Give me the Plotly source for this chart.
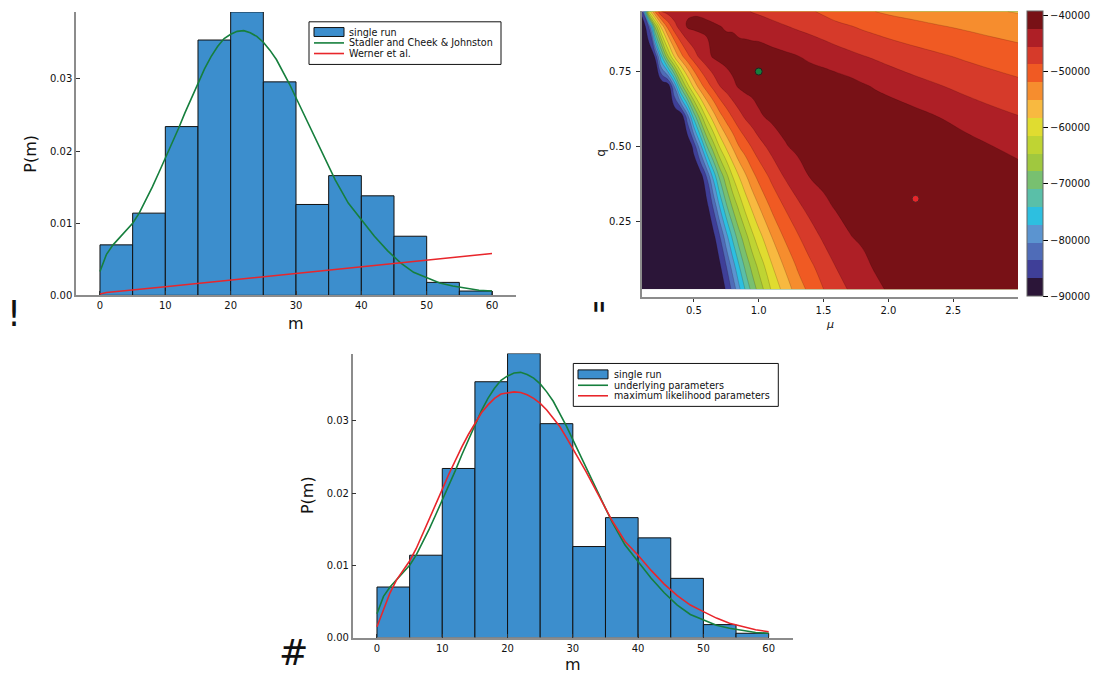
import plotly.graph_objects as go

W, H = 1105, 679
def fx(p):
    return p / W
def fy(p):
    return 1 - p / H

# ---------------- data ----------------
bin_edges = [0, 5, 10, 15, 20, 25, 30, 35, 40, 45, 50, 55, 60]
single_run_density = [0.0070, 0.0114, 0.0234, 0.0354, 0.0393, 0.0296,
                      0.0126, 0.0166, 0.0138, 0.0082, 0.0018, 0.0006]

curve_m = [0, 1, 2, 3, 4, 5, 6, 7, 8, 9, 10, 11, 12, 13, 14, 15, 16, 17, 18, 19,
           20, 21, 22, 23, 24, 25, 26, 27, 28, 29, 30, 32, 34, 36, 38, 40, 42, 44,
           46, 48, 50, 52, 54, 56, 58, 60]
underlying_P = [0.0033, 0.0057, 0.0070, 0.0080, 0.0089, 0.0100, 0.0114, 0.0131, 0.0150,
                0.0170, 0.0190, 0.0210, 0.0231, 0.0253, 0.0274, 0.0295, 0.0314, 0.0331,
                0.0345, 0.0356, 0.0362, 0.0366, 0.0367, 0.0364, 0.0359, 0.0351, 0.0340,
                0.0327, 0.0311, 0.0293, 0.0274, 0.0236, 0.0197, 0.0160, 0.0128, 0.0105,
                0.0082, 0.0062, 0.0045, 0.0032, 0.0024, 0.0017, 0.0013, 0.0010, 0.0007,
                0.0006]
max_likelihood_P = [0.0015, 0.0038, 0.0062, 0.0080, 0.0093, 0.0106, 0.0123, 0.0143, 0.0164,
                    0.0185, 0.0205, 0.0226, 0.0246, 0.0264, 0.0281, 0.0297, 0.0311, 0.0322,
                    0.0331, 0.0337, 0.0339, 0.0340, 0.0339, 0.0336, 0.0331, 0.0324, 0.0315,
                    0.0304, 0.0292, 0.0277, 0.0262, 0.0230, 0.0196, 0.0162, 0.0133, 0.0114,
                    0.0093, 0.0074, 0.0058, 0.0045, 0.0036, 0.0027, 0.0020, 0.0015, 0.0011,
                    0.0008]
werner_m = [0, 1, 10, 20, 30, 40, 50, 60]
werner_P = [0.0002, 0.0004, 0.0012, 0.0021, 0.0030, 0.0040, 0.0049, 0.0058]

# log-likelihood surface (values in thousands)
mu_vals = [0.1, 0.15, 0.2, 0.25, 0.3, 0.35, 0.4, 0.45, 0.5, 0.55, 0.6, 0.65, 0.7, 0.75,
           0.8, 0.85, 0.9, 0.95, 1.0, 1.1, 1.2, 1.3, 1.4, 1.5, 1.6, 1.7, 1.8, 1.9, 2.0,
           2.2, 2.4, 2.6, 2.8, 3.0]
q_vals = [0.025, 0.1, 0.2, 0.3, 0.4, 0.5, 0.6, 0.7, 0.8, 0.9, 0.95]
ll_q0025 = [-90.0] * 12 + [-89.68, -86.29, -82.67, -77.90, -73.59, -69.68, -66.66, -61.01,
            -56.98, -53.55, -50.85, -48.73, -46.88, -45.26, -44.15, -43.07, -42.06,
            -41.42, -40.95, -40.79, -40.79, -40.63]
ll_q010 = [-90.0] * 12 + [-87.40, -83.78, -79.01, -74.28, -70.00, -66.79, -63.84, -58.60,
           -54.79, -51.52, -49.30, -47.30, -45.42, -44.28, -43.14, -42.06, -41.58,
           -40.95, -40.47, -40.47, -40.47, -40.47]
ll_q020 = [-90.0] * 11 + [-87.78, -83.81, -78.44, -73.33, -68.95, -65.58, -62.19, -59.46,
           -55.08, -51.49, -49.04, -46.85, -45.04, -43.77, -42.50, -41.90, -41.42,
           -40.95, -40.15, -39.99, -40.15, -40.31, -40.47]
ll_q030 = [-90.0] * 10 + [-87.81, -83.27, -77.11, -71.55, -67.27, -63.65, -60.19, -57.55,
           -55.23, -51.27, -48.53, -46.15, -44.47, -43.07, -42.06, -41.58, -41.10,
           -40.79, -40.15, -39.45, -39.68, -40.15, -40.63, -40.79]
ll_q040 = [-90.0] * 9 + [-88.57, -83.40, -76.41, -70.22, -65.74, -61.39, -58.15, -55.49,
           -52.98, -51.01, -47.96, -45.33, -43.71, -42.22, -41.58, -41.10, -40.79,
           -40.47, -40.15, -39.68, -39.68, -39.99, -40.47, -40.79, -41.10]
ll_q050 = [-90.0] * 8 + [-85.68, -78.60, -71.20, -66.00, -61.17, -57.65, -54.69, -51.90,
           -50.12, -48.41, -46.85, -44.47, -42.66, -41.74, -41.26, -40.95, -40.79,
           -40.63, -40.47, -39.99, -39.84, -40.31, -40.47, -41.20, -42.31, -43.30]
ll_q060 = [-90.0] * 6 + [-89.33, -82.03, -72.82, -66.09, -60.50, -56.50, -53.04, -50.50,
           -48.41, -46.53, -45.01, -43.93, -42.82, -41.74, -41.26, -40.95, -40.79,
           -40.79, -40.79, -40.63, -40.47, -40.31, -40.47, -41.42, -42.47, -43.74,
           -44.66, -45.45]
ll_q070 = [-90.0] * 4 + [-89.30, -80.38, -69.90, -62.89, -57.46, -53.33, -50.28, -47.87,
           -45.65, -44.31, -43.01, -42.06, -41.58, -41.42, -41.26, -41.10, -40.95,
           -40.79, -40.63, -40.47, -40.79, -41.23, -41.96, -42.63, -43.26, -44.41,
           -45.39, -46.34, -47.17, -47.93]
ll_q080 = [-90.0, -90.0, -86.63, -74.70, -65.08, -58.00, -53.08, -49.68, -46.92, -44.82,
           -43.26, -42.06, -41.58, -41.26, -41.10, -40.95, -40.79, -40.79, -40.63,
           -41.26, -41.74, -42.28, -42.85, -43.49, -44.15, -44.79, -45.39, -45.93,
           -46.50, -47.49, -48.34, -49.17, -49.90, -50.50]
ll_q090 = [-90.0, -84.00, -67.20, -57.11, -50.79, -46.73, -43.99, -42.06, -41.74, -41.74,
           -41.90, -42.06, -42.31, -42.60, -42.69, -43.23, -43.52, -43.80, -44.12,
           -44.72, -45.36, -45.99, -46.57, -47.23, -47.96, -48.53, -49.17, -49.71,
           -50.22, -51.04, -51.74, -52.34, -52.95, -53.55]
ll_q095 = [-85.24, -61.17, -51.77, -45.45, -44.28, -43.49, -43.01, -42.76, -42.69, -42.76,
           -42.95, -43.26, -43.65, -44.03, -44.44, -44.85, -45.23, -45.68, -45.96,
           -46.60, -47.23, -47.80, -48.38, -49.26, -50.19, -50.92, -51.36, -51.90,
           -52.38, -53.01, -53.58, -54.15, -54.73, -55.30]
ll_rows = [ll_q0025, ll_q010, ll_q020, ll_q030, ll_q040, ll_q050, ll_q060,
           ll_q070, ll_q080, ll_q090, ll_q095]

underlying_mu, underlying_q = [1.0], [0.75]
ml_mu, ml_q = [2.21], [0.326]

level_min, level_step, n_bands = -90000, 3175, 16
band_colors = ["#2b1538", "#3f3f98", "#4f6cb8", "#5b94d0", "#2dbfe0", "#5abfa8",
               "#78c070", "#a0c83f", "#bfd433", "#e0dc30", "#f8b940", "#f68d2e",
               "#f05a23", "#d63a2a", "#ae1f26", "#781116"]
cbar_ticks = [-90000, -80000, -70000, -60000, -50000, -40000]

# ---------------- figure ----------------
BAR = "#3c8ecd"
GREEN = "#167f3d"
RED = "#e8262b"
FONT = "DejaVu Sans"

fig = go.Figure()
centers = [(a + b) / 2 for a, b in zip(bin_edges[:-1], bin_edges[1:])]
widths = [b - a for a, b in zip(bin_edges[:-1], bin_edges[1:])]

for xa, ya in [("x", "y"), ("x3", "y3")]:
    fig.add_trace(go.Bar(x=centers, y=single_run_density, width=widths,
                         marker=dict(color=BAR, line=dict(color="#111111", width=1)),
                         xaxis=xa, yaxis=ya, showlegend=False, hoverinfo="skip"))

fig.add_trace(go.Scatter(x=curve_m, y=underlying_P, mode="lines", xaxis="x", yaxis="y",
                         line=dict(color=GREEN, width=1.6), showlegend=False))
fig.add_trace(go.Scatter(x=werner_m, y=werner_P, mode="lines", xaxis="x", yaxis="y",
                         line=dict(color=RED, width=1.6), showlegend=False))
fig.add_trace(go.Scatter(x=curve_m, y=underlying_P, mode="lines", xaxis="x3", yaxis="y3",
                         line=dict(color=GREEN, width=1.6), showlegend=False))
fig.add_trace(go.Scatter(x=curve_m, y=max_likelihood_P, mode="lines", xaxis="x3", yaxis="y3",
                         line=dict(color=RED, width=1.6), showlegend=False))

z = [[v * 1000 for v in row] for row in ll_rows]
cscale = [[k / (n_bands - 1), c] for k, c in enumerate(band_colors)]
fig.add_trace(go.Contour(
    x=mu_vals, y=q_vals, z=z, xaxis="x2", yaxis="y2",
    autocontour=False,
    contours=dict(start=level_min + level_step,
                  end=level_min + (n_bands - 1) * level_step,
                  size=level_step, coloring="fill", showlines=True),
    line=dict(color="rgba(40,0,0,0.35)", width=0.5, smoothing=1.3),
    colorscale=cscale, showscale=False,
    hoverinfo="skip"))

# colour bar: stepped scale spanning the full band range
level_max = level_min + n_bands * level_step
stepped = []
for k, c in enumerate(band_colors):
    stepped.append([k / n_bands, c])
    stepped.append([(k + 1) / n_bands, c])
fig.add_trace(go.Scatter(
    x=[mu_vals[0], mu_vals[0]], y=[q_vals[0], q_vals[0]], mode="markers",
    xaxis="x2", yaxis="y2", showlegend=False, hoverinfo="skip",
    marker=dict(size=1, opacity=0, color=[level_min, level_max], cmin=level_min,
                cmax=level_max, colorscale=stepped, showscale=True,
                colorbar=dict(x=fx(1026.7), xanchor="left", y=fy(155), yanchor="middle",
                              len=288 / H, lenmode="fraction", thickness=16,
                              thicknessmode="pixels", xpad=0, ypad=0, outlinewidth=1,
                              outlinecolor="#666666", ticks="outside", ticklen=5,
                              tickcolor="#000000", tickvals=cbar_ticks,
                              ticktext=["\u2212" + str(abs(v)) for v in cbar_ticks],
                              tickfont=dict(size=10, color="#111111", family=FONT)))))

fig.add_trace(go.Scatter(x=underlying_mu, y=underlying_q, mode="markers", xaxis="x2", yaxis="y2",
                         marker=dict(size=7, color=GREEN, line=dict(color="#222222", width=1)),
                         showlegend=False))
fig.add_trace(go.Scatter(x=ml_mu, y=ml_q, mode="markers", xaxis="x2", yaxis="y2",
                         marker=dict(size=7, color=RED, line=dict(color="#552222", width=1)),
                         showlegend=False))

axis_common = dict(showgrid=False, zeroline=False, showline=True, linecolor="#8c8c8c",
                   tickfont=dict(size=10, color="#111111", family=FONT),
                   tickcolor="#333333", fixedrange=True)

fig.update_layout(
    width=W, height=H, margin=dict(l=0, r=0, t=0, b=0),
    paper_bgcolor="white", plot_bgcolor="white",
    font=dict(family=FONT, color="#111111"),
    showlegend=False,
    xaxis=dict(domain=[fx(76), fx(516)], anchor="y", range=[-3.67, 63.67],
               tickvals=[0, 10, 20, 30, 40, 50, 60], ticks="inside", ticklen=4,
               linewidth=2, **axis_common),
    yaxis=dict(domain=[fy(298), fy(12)], anchor="x", range=[0, 0.0393],
               tickvals=[0, 0.01, 0.02, 0.03], tickformat=".2f", ticks="inside", ticklen=4,
               linewidth=1.5, **axis_common),
    xaxis2=dict(domain=[fx(642), fx(1018)], anchor="y2", range=[0.1, 3.0],
                tickvals=[0.5, 1.0, 1.5, 2.0, 2.5], tickformat=".1f", ticks="outside",
                ticklen=3, linewidth=2, **axis_common),
    yaxis2=dict(domain=[fy(299.3), fy(11)], anchor="x2", range=[0, 0.952],
                tickvals=[0.25, 0.5, 0.75], tickformat=".2f", ticks="outside", ticklen=4,
                linewidth=1.5, ticklabelstandoff=3, **axis_common),
    xaxis3=dict(domain=[fx(352.7), fx(792.7)], anchor="y3", range=[-3.72, 63.68],
                tickvals=[0, 10, 20, 30, 40, 50, 60], ticks="inside", ticklen=4,
                linewidth=2, **axis_common),
    yaxis3=dict(domain=[fy(643.3), fy(356.7)], anchor="x3", range=[0, 0.0393],
                tickvals=[0, 0.01, 0.02, 0.03], tickformat=".2f", ticks="inside", ticklen=4,
                linewidth=1.5, **axis_common),
)

shapes = []
annotations = []

def legend(x0, y0, x1, y1, sw_x0, sw_x1, rows, text_x, entries):
    shapes.append(dict(type="rect", xref="paper", yref="paper", x0=fx(x0), x1=fx(x1),
                       y0=fy(y1), y1=fy(y0), line=dict(color="#111111", width=1),
                       fillcolor="white", layer="above"))
    for (kind, color, label), ry in zip(entries, rows):
        if kind == "bar":
            shapes.append(dict(type="rect", xref="paper", yref="paper",
                               x0=fx(sw_x0), x1=fx(sw_x1), y0=fy(ry + 4.5), y1=fy(ry - 4.5),
                               fillcolor=color, line=dict(color="#111111", width=1),
                               layer="above"))
        else:
            shapes.append(dict(type="line", xref="paper", yref="paper",
                               x0=fx(sw_x0), x1=fx(sw_x1), y0=fy(ry), y1=fy(ry),
                               line=dict(color=color, width=1.6), layer="above"))
        annotations.append(dict(text=label, xref="paper", yref="paper", x=fx(text_x),
                                y=fy(ry), xanchor="left", yanchor="middle", showarrow=False,
                                font=dict(size=9.6, color="#111111", family=FONT)))

legend(309, 22, 501, 65, 314, 344, [32.3, 43.3, 54.0], 347,
       [("bar", BAR, "single run"), ("line", GREEN, "Stadler and Cheek &amp; Johnston"),
        ("line", RED, "Werner et al.")])
legend(573.3, 366.7, 778.3, 410, 578, 608, [377.7, 388.7, 399.3], 611.5,
       [("bar", BAR, "single run"), ("line", GREEN, "underlying parameters"),
        ("line", RED, "maximum likelihood parameters")])

def label(text, x, y, size, angle=0):
    annotations.append(dict(text=text, xref="paper", yref="paper", x=fx(x), y=fy(y),
                            xanchor="center", yanchor="middle", showarrow=False,
                            textangle=angle, font=dict(size=size, color="#111111", family=FONT)))

label("P(m)", 31, 155, 16, -90)
label("m", 296, 326, 16)
label("q", 601, 154, 12, -90)
label("<i>\u03bc</i>", 829.5, 327, 11)
label("P(m)", 307.5, 500, 16, -90)
label("m", 572.7, 670, 16)
label("!", 14, 317, 35)
label("\"", 599, 319, 35)
label("#", 293, 659, 35)

fig.update_layout(shapes=shapes, annotations=annotations)
fig.write_html("out.html")
